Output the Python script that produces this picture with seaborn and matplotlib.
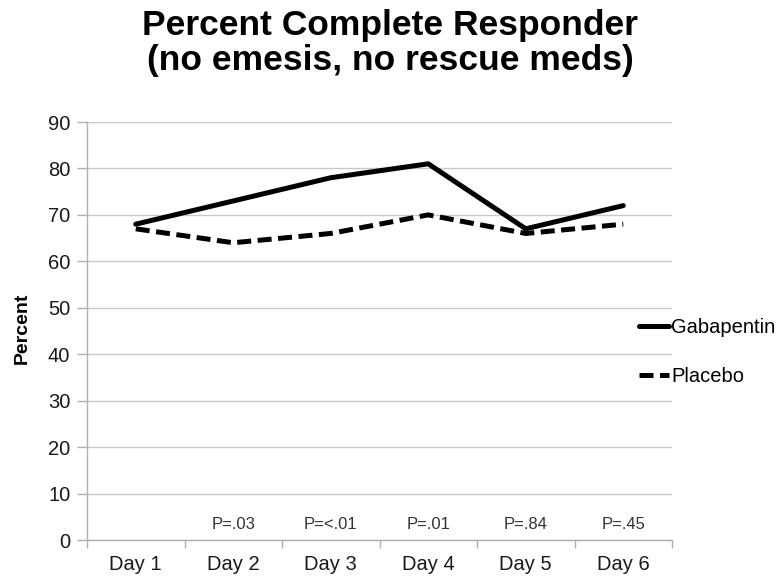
import pandas as pd
import numpy as np
import matplotlib
matplotlib.use("Agg")
import matplotlib.pyplot as plt
import seaborn as sns

# Data
days = ["Day 1", "Day 2", "Day 3", "Day 4", "Day 5", "Day 6"]
gabapentin = [68, 73, 78, 81, 67, 72]
placebo = [67, 64, 66, 70, 66, 68]
p_values = ["", "P=.03", "P=<.01", "P=.01", "P=.84", "P=.45"]

df = pd.DataFrame({
    "Day": days * 2,
    "Percent": gabapentin + placebo,
    "Group": ["Gabapentin"] * len(days) + ["Placebo"] * len(days),
})

sns.set_theme(style="white")
plt.rcParams["font.family"] = ["Liberation Sans", "DejaVu Sans"]
plt.rcParams["text.color"] = "black"
plt.rcParams["axes.labelcolor"] = "black"

fig = plt.figure(figsize=(7.81, 5.84), dpi=100)
ax = fig.add_axes([87 / 781, 1 - 540 / 584, (672 - 87) / 781, (540 - 122) / 584])

sns.lineplot(
    data=df, x="Day", y="Percent", hue="Group", style="Group",
    palette={"Gabapentin": "black", "Placebo": "black"},
    dashes={"Gabapentin": "", "Placebo": (2.8, 1.3)},
    linewidth=3.6, ax=ax, legend=True, sort=False,
)

ax.set_xlim(-0.5, len(days) - 0.5)
ax.set_ylim(0, 90)
ax.set_yticks(range(0, 91, 10))
ax.yaxis.grid(True, color="#c8c8c8", linewidth=1.0)
ax.set_axisbelow(True)

# tick marks at category boundaries
ax.set_xticks(range(len(days)))
ax.set_xticklabels(days, fontsize=14.5)
ax.set_xticks(np.arange(-0.5, len(days), 1), minor=True)
ax.tick_params(axis="x", which="major", length=0, pad=11)
ax.tick_params(axis="x", which="minor", length=6, color="#b0b0b0", width=1, direction="out")
ax.tick_params(axis="y", length=7, color="#b0b0b0", width=1, labelsize=14.5, pad=5, direction="out")
ax.tick_params(axis="both", labelcolor="#1a1a1a")
ax.xaxis.set_ticks_position("bottom")
ax.yaxis.set_ticks_position("left")

for side in ["top", "right"]:
    ax.spines[side].set_visible(False)
for side in ["left", "bottom"]:
    ax.spines[side].set_color("#b0b0b0")
    ax.spines[side].set_linewidth(1.0)

ax.set_xlabel("")
ax.set_ylabel("Percent", fontsize=14, fontweight="bold")
ax.yaxis.set_label_coords(-0.096, 0.507)

for i, p in enumerate(p_values):
    if p:
        ax.text(i, 3.3, p, ha="center", va="center", fontsize=12, color="#333333")

ax.legend(
    loc="center left", bbox_to_anchor=(621 / 781, 1 - 352 / 584),
    bbox_transform=fig.transFigure, frameon=False, fontsize=14.5,
    handlelength=1.5, handletextpad=0.1, labelspacing=1.45,
)

fig.suptitle("Percent Complete Responder\n(no emesis, no rescue meds)",
             x=0.5, y=0.985, fontsize=25.5, fontweight="bold", linespacing=1.1)

fig.savefig("out.png", dpi=100)
